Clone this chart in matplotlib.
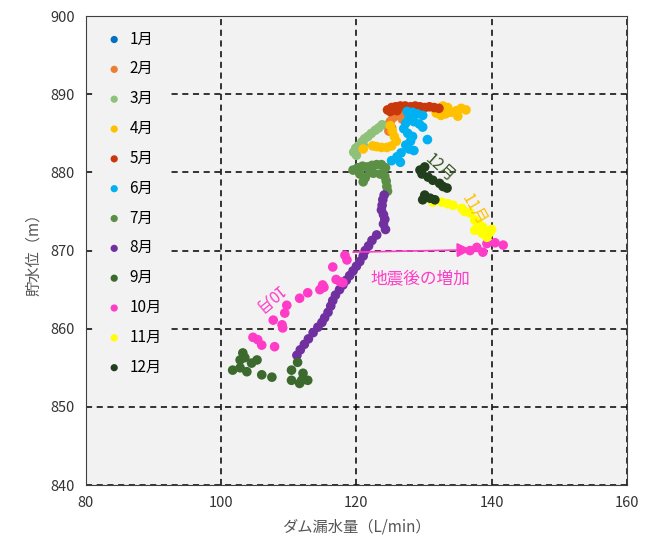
import matplotlib.pyplot as plt

plt.rcParams['font.family'] = ['Noto Sans CJK JP', 'DejaVu Sans']

# month labels and colours
months = ['1月', '2月', '3月', '4月', '5月', '6月', '7月', '8月', '9月', '10月', '11月', '12月']
colors = ['#0070C0', '#ED7D31', '#8FC17B', '#FFC000', '#C8380A', '#00B0F0',
          '#5B8F46', '#7030A0', '#3C6A2E', '#FF3CC8', '#FFFF00', '#213F1C']

# leak flow (L/min) and reservoir level (m) per month
x_jan = [126.0, 127.0, 128.0]
y_jan = [888.3, 888.0, 887.8]
x_feb = [124.6, 125.0, 125.4, 126.0, 126.5, 125.2, 126.8, 124.8]
y_feb = [886.0, 886.5, 887.0, 887.3, 887.5, 885.7, 886.8, 885.3]
x_mar = [119.6, 119.9, 120.3, 120.8, 121.2, 121.7, 122.2, 122.8, 123.3, 123.8, 120.0, 121.0]
y_mar = [882.6, 883.1, 883.4, 883.9, 884.3, 884.6, 885.0, 885.4, 885.7, 886.1, 882.2, 883.5]
x_apr = [131.8, 132.5, 133.2, 134.0, 134.8, 135.5, 136.2, 133.5, 132.8, 135.0,
         125.0, 125.3, 125.6, 125.9, 125.2, 124.5, 123.7, 123.0, 122.4, 121.0]
y_apr = [887.6, 887.3, 887.5, 887.7, 887.9, 888.2, 888.0, 888.3, 888.5, 887.2,
         886.0, 885.3, 884.6, 884.0, 883.4, 883.2, 883.2, 883.3, 883.4, 883.0]
x_may = [124.6, 125.2, 125.8, 126.5, 127.2, 128.0, 128.7, 129.4, 130.1, 130.8, 131.5, 132.2,
         125.0, 126.0, 127.5, 129.0]
y_may = [888.0, 888.3, 888.4, 888.5, 888.5, 888.4, 888.5, 888.4, 888.3, 888.4, 888.3, 888.2,
         887.8, 887.9, 888.0, 887.9]
x_jun = [127.5, 128.3, 129.0, 129.8, 127.8, 128.5, 129.3, 129.8, 127.3, 127.0, 127.6,
         128.3, 128.0, 127.3, 127.8, 130.5, 126.6, 126.0, 125.2, 126.5, 128.5]
y_jun = [887.8, 887.7, 887.5, 887.3, 887.0, 886.5, 886.2, 885.8, 886.3, 885.6, 885.0,
         884.6, 884.0, 883.5, 883.0, 884.2, 882.5, 882.0, 881.5, 881.3, 882.8]
x_jul = [119.5, 120.2, 120.9, 121.6, 122.3, 123.0, 123.7, 124.3, 120.5, 121.3, 121.0,
         122.5, 123.5, 124.2, 124.4, 124.5, 124.6, 122.0]
y_jul = [880.3, 880.6, 880.8, 880.7, 880.9, 881.0, 881.0, 880.6, 879.8, 879.3, 878.8,
         879.9, 879.8, 879.5, 878.9, 878.2, 877.6, 880.0]
x_aug = [124.1, 123.9, 123.8, 123.7, 124.0, 124.2, 124.0, 124.3, 123.0, 122.3, 121.8,
         121.3, 121.0, 120.5, 120.0, 119.5, 119.0, 118.5, 118.0, 117.5, 116.9, 116.5,
         116.2, 115.8, 115.3, 114.9, 114.3, 113.6, 112.9, 112.3, 111.7, 111.2]
y_aug = [877.1, 876.5, 875.8, 875.2, 874.6, 874.0, 873.4, 872.7, 872.0, 871.3, 870.6,
         870.0, 869.3, 868.6, 868.0, 867.4, 866.8, 866.2, 865.6, 865.0, 864.3, 863.6,
         862.9, 862.1, 861.4, 860.8, 860.2, 859.5, 858.7, 858.0, 857.3, 856.6]
x_sep = [103.2, 102.8, 104.5, 105.3, 101.7, 102.8, 103.8, 106.0, 107.5, 103.5,
         111.3, 110.4, 112.1, 110.4, 111.9, 112.8, 111.6]
y_sep = [856.9, 856.0, 855.6, 856.0, 854.7, 855.0, 854.5, 854.1, 853.8, 856.3,
         855.7, 854.7, 854.3, 853.4, 853.4, 853.4, 853.0]
x_oct = [118.3, 118.6, 116.5, 117.6, 118.0, 115.0, 114.6, 115.2, 112.8, 111.6, 109.7,
         109.4, 107.7, 109.0, 109.1, 104.7, 105.4, 106.0, 107.9, 117.0,
         136.8, 137.8, 138.7, 140.5, 141.7, 139.3]
y_oct = [869.4, 868.8, 867.9, 866.0, 865.9, 865.6, 865.0, 865.3, 864.6, 863.9, 863.0,
         862.0, 861.1, 860.5, 860.1, 858.9, 858.6, 857.9, 857.7, 866.3,
         870.0, 870.4, 869.8, 871.0, 870.7, 870.9]
x_nov = [131.3, 132.6, 134.3, 135.6, 136.8, 137.5, 138.0, 137.5, 138.6, 139.3, 139.7,
         138.7, 140.0, 136.0, 133.5]
y_nov = [876.2, 876.2, 875.8, 875.4, 874.8, 873.9, 873.5, 872.6, 872.2, 871.7, 872.3,
         873.0, 872.7, 875.0, 876.0]
x_dec = [129.4, 130.1, 130.6, 131.3, 132.3, 133.4, 130.1, 130.9, 131.6, 129.8, 129.7, 132.8]
y_dec = [880.3, 880.7, 879.4, 879.0, 878.6, 878.0, 877.1, 876.7, 876.5, 876.5, 879.8, 878.2]

xs = [x_jan, x_feb, x_mar, x_apr, x_may, x_jun, x_jul, x_aug, x_sep, x_oct, x_nov, x_dec]
ys = [y_jan, y_feb, y_mar, y_apr, y_may, y_jun, y_jul, y_aug, y_sep, y_oct, y_nov, y_dec]

fig = plt.figure(figsize=(6.51, 5.38), dpi=100)
ax = fig.add_axes([0.132, 0.0985, 0.831, 0.8715])
ax.set_facecolor('#F2F2F2')

for m, c, xv, yv in zip(months, colors, xs, ys):
    ax.scatter(xv, yv, s=48, color=c, edgecolors='none', label=m, zorder=3)

ax.set_xlim(80, 160)
ax.set_ylim(840, 900)
ax.set_xticks(range(80, 161, 20))
ax.set_yticks(range(840, 901, 10))
ax.grid(True, color='black', linestyle=(0, (4, 3)), linewidth=1.1, zorder=1)
ax.set_axisbelow(True)
ax.tick_params(length=0, labelsize=10.5, colors='#333333', pad=8)
for sp in ax.spines.values():
    sp.set_color('#404040')

ax.set_xlabel('ダム漏水量（L/min）', fontsize=11, color='#555555', labelpad=6)
ax.set_ylabel('貯水位（m）', fontsize=11, color='#555555', labelpad=6)

leg = ax.legend(loc='upper left', bbox_to_anchor=(0.0, 0.997), frameon=True,
                facecolor='#F2F2F2', edgecolor='none', framealpha=1,
                fontsize=11, labelspacing=0.84, handletextpad=0.0,
                markerscale=0.75, borderpad=0.35)
leg.set_zorder(4)

# annotations
ax.annotate('', xy=(137.0, 870.1), xytext=(119.5, 869.8),
            arrowprops=dict(arrowstyle='-|>', color='#FF3CC8', lw=1.2,
                            mutation_scale=22, shrinkA=0, shrinkB=0), zorder=5)
ax.text(129.4, 866.4, '地震後の増加', color='#FF3CC8', fontsize=12,
        ha='center', va='center', zorder=5)
ax.text(132.4, 880.6, '12月', color='#375623', fontsize=11.5, rotation=-42,
        ha='center', va='center', zorder=5)
ax.text(137.3, 875.2, '11月', color='#FFC000', fontsize=11.5, rotation=-60,
        ha='center', va='center', zorder=5)
ax.text(106.8, 863.9, '10月', color='#FF3CC8', fontsize=11.5, rotation=220,
        ha='center', va='center', zorder=5)

fig.savefig('out.png', dpi=100)
